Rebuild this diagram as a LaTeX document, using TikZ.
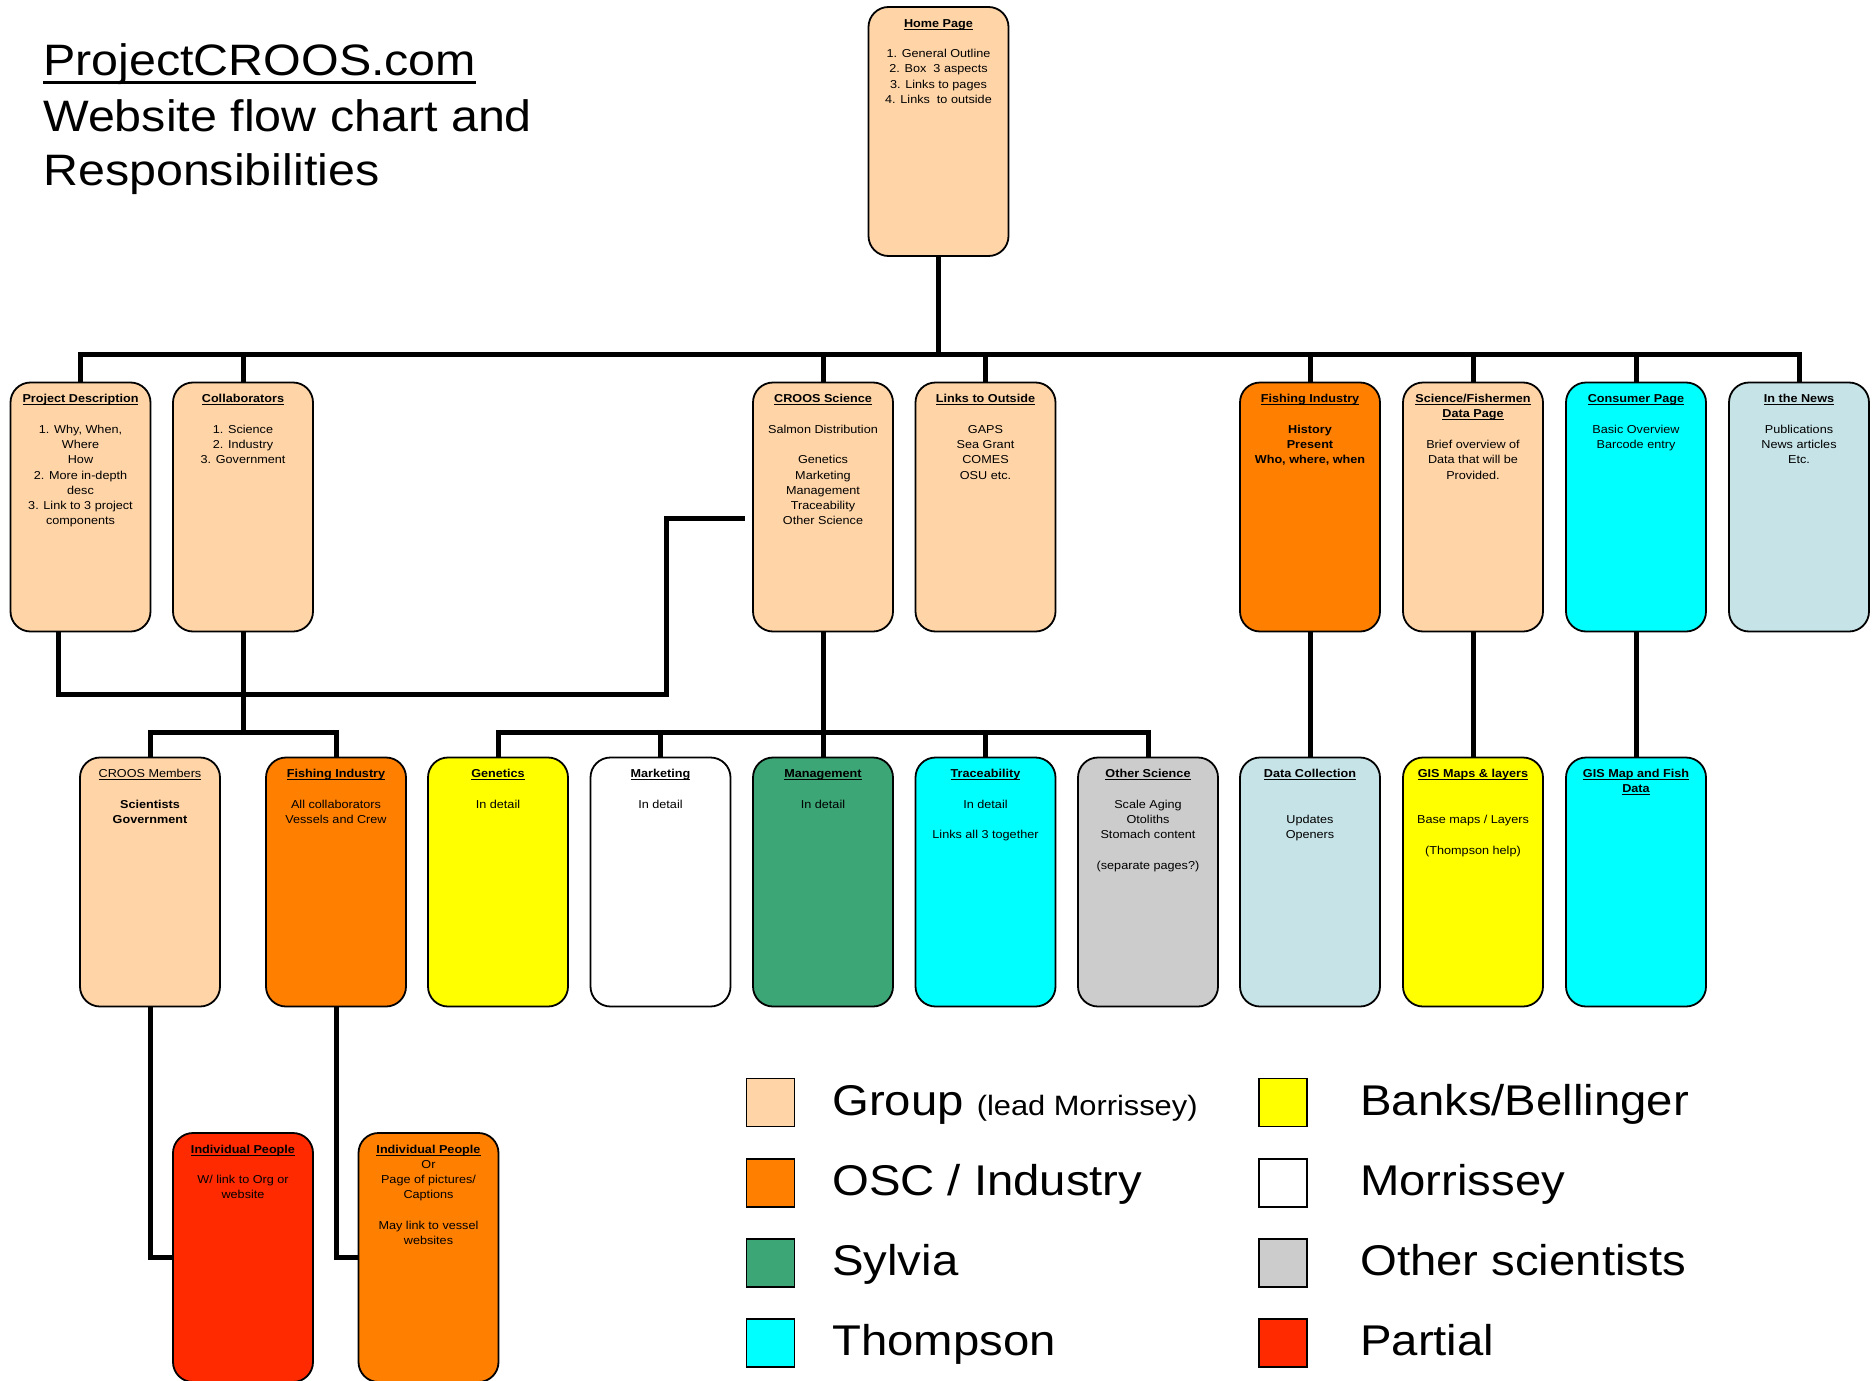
\documentclass[tikz,border=0pt]{standalone}
\usepackage{fontspec}
\setmainfont{Liberation Sans}[FakeStretch=1.1]
\definecolor{peach}{HTML}{FFD5A8}
\definecolor{orng}{HTML}{FF7F00}
\definecolor{yel}{HTML}{FFFF00}
\definecolor{grn}{HTML}{3CA676}
\definecolor{cyn}{HTML}{00FFFF}
\definecolor{gry}{HTML}{CCCCCC}
\definecolor{lblue}{HTML}{C6E3E7}
\definecolor{redp}{HTML}{FF2A00}
\newcommand\ul[1]{\leavevmode\setbox0=\hbox{#1}\rlap{\rule[-2.6pt]{\wd0}{1.1pt}}\box0}
\newcommand\ulbig[1]{\leavevmode\setbox0=\hbox{#1}\rlap{\rule[-8pt]{\wd0}{3.5pt}}\box0}
\newcommand\bx[1]{\parbox[c][249pt][t]{138pt}{\centering\fontsize{11.5}{15.3}\selectfont\rule{0pt}{20pt}#1\par}}
\begin{document}
\begin{tikzpicture}[x=1pt,y=-1pt,
  box/.style={draw=black,line width=1.8pt,rounded corners=20pt,inner sep=0pt,minimum width=140pt,minimum height=249pt},
  conn/.style={line width=5pt,black},
  legsq/.style={draw=black,line width=1.5pt,minimum width=48pt,minimum height=48pt,inner sep=0pt},
  legtxt/.style={anchor=base west,inner sep=0pt,font=\fontsize{43}{50}\selectfont},
  ttl/.style={anchor=base west,inner sep=0pt,font=\fontsize{44}{50}\selectfont}]
\useasboundingbox (0,0) rectangle (1875,1381);
\clip (0,0) rectangle (1875,1381);
\fill[white] (0,0) rectangle (1875,1381);

% title
\node[ttl] (t1) at (43,76) {\ulbig{ProjectCROOS.com}};
\node[ttl] (t2) at (43,131) {Website flow chart and};
\node[ttl] (t3) at (43,185) {Responsibilities};

% home
\node[box,fill=peach] (home) at (938.5,131.5) {\bx{\ul{\textbf{Home Page}}\\~\\1. General Outline\\2. Box\ \ 3 aspects\\3. Links to pages\\4. Links\ \ to outside}};

% top row
\node[box,fill=peach] (pd) at (80.5,507) {\bx{\ul{\textbf{Project Description}}\\~\\1. Why, When,\\Where\\How\\2. More in-depth\\desc\\3. Link to 3 project\\components}};
\node[box,fill=peach] (co) at (243,507) {\bx{\ul{\textbf{Collaborators}}\\~\\1. Science\\2. Industry\\3. Government}};
\node[box,fill=peach] (cs) at (823,507) {\bx{\ul{\textbf{CROOS Science}}\\~\\Salmon Distribution\\~\\Genetics\\Marketing\\Management\\Traceability\\Other Science}};
\node[box,fill=peach] (lo) at (985.5,507) {\bx{\ul{\textbf{Links to Outside}}\\~\\GAPS\\Sea Grant\\COMES\\OSU etc.}};
\node[box,fill=orng] (fi) at (1310,507) {\bx{\ul{\textbf{Fishing Industry}}\\~\\\textbf{History}\\\textbf{Present}\\\textbf{Who, where, when}}};
\node[box,fill=peach] (sf) at (1473,507) {\bx{\ul{\textbf{Science/Fishermen}}\\\ul{\textbf{Data Page}}\\~\\Brief overview of\\Data that will be\\Provided.}};
\node[box,fill=cyn] (cp) at (1636,507) {\bx{\ul{\textbf{Consumer Page}}\\~\\Basic Overview\\Barcode entry}};
\node[box,fill=lblue] (nw) at (1799,507) {\bx{\ul{\textbf{In the News}}\\~\\Publications\\News articles\\Etc.}};

% bottom row
\node[box,fill=peach] (cm) at (150,882) {\bx{\ul{CROOS Members}\\~\\\textbf{Scientists}\\\textbf{Government}}};
\node[box,fill=orng] (fb) at (336,882) {\bx{\ul{\textbf{Fishing Industry}}\\~\\All collaborators\\Vessels and Crew}};
\node[box,fill=yel] (ge) at (498,882) {\bx{\ul{\textbf{Genetics}}\\~\\In detail}};
\node[box,fill=white] (mk) at (660.5,882) {\bx{\ul{\textbf{Marketing}}\\~\\In detail}};
\node[box,fill=grn] (mg) at (823,882) {\bx{\ul{\textbf{Management}}\\~\\In detail}};
\node[box,fill=cyn] (tr) at (985.5,882) {\bx{\ul{\textbf{Traceability}}\\~\\In detail\\~\\Links all 3 together}};
\node[box,fill=gry] (os) at (1148,882) {\bx{\ul{\textbf{Other Science}}\\~\\Scale Aging\\Otoliths\\Stomach content\\~\\(separate pages?)}};
\node[box,fill=lblue] (dc) at (1310,882) {\bx{\ul{\textbf{Data Collection}}\\~\\~\\Updates\\Openers}};
\node[box,fill=yel] (gm) at (1473,882) {\bx{\ul{\textbf{GIS Maps \& layers}}\\~\\~\\Base maps / Layers\\~\\(Thompson help)}};
\node[box,fill=cyn] (gf) at (1636,882) {\bx{\ul{\textbf{GIS Map and Fish}}\\\ul{\textbf{Data}}}};

% lowest row
\node[box,fill=redp] (ip1) at (243,1257.5) {\bx{\ul{\textbf{Individual People}}\\~\\W/ link to Org or\\website}};
\node[box,fill=orng] (ip2) at (428.5,1257.5) {\bx{\ul{\textbf{Individual People}}\\Or\\Page of pictures/\\Captions\\~\\May link to vessel\\websites}};

% connectors
\draw[conn] (home.south) -- (home.south |- 0,356);
\draw[conn] (pd.north) -- ++(0,-27) -| (nw.north);
\foreach \n in {co,cs,lo,fi,sf,cp} \draw[conn] (\n.north) -- ++(0,-27);
\draw[conn] (pd.south -| 58,0) |- (666,694) |- ([xshift=-7pt]cs.west |- 0,518);
\draw[conn] (co.south) -- (co.south |- 0,733);
\draw[conn] (cm.north) -- ++(0,-24) -| (fb.north);
\draw[conn] (cs.south) -- (mg.north);
\draw[conn] (ge.north) -- ++(0,-24) -| (os.north);
\draw[conn] (mk.north) -- ++(0,-24);
\draw[conn] (tr.north) -- ++(0,-24);
\draw[conn] (fi.south) -- (dc.north);
\draw[conn] (sf.south) -- (gm.north);
\draw[conn] (cp.south) -- (gf.north);
\draw[conn] (cm.south) |- (ip1.west);
\draw[conn] (fb.south) |- (ip2.west);

% legend
\node[legsq,fill=peach] (s1) at (770.5,1102.5) {};
\node[legsq,fill=orng] (s2) at (770.5,1183) {};
\node[legsq,fill=grn] (s3) at (770.5,1263) {};
\node[legsq,fill=cyn] (s4) at (770.5,1343) {};
\node[legsq,fill=yel] (s5) at (1283,1102.5) {};
\node[legsq,fill=white] (s6) at (1283,1183) {};
\node[legsq,fill=gry] (s7) at (1283,1263) {};
\node[legsq,fill=redp] (s8) at (1283,1343) {};
\node[legtxt] (l1) at (832,1115) {Group {\fontsize{28}{30}\selectfont (lead Morrissey)}};
\node[legtxt] (l2) at (832,1195) {OSC / Industry};
\node[legtxt] (l3) at (832,1275) {Sylvia};
\node[legtxt] (l4) at (832,1355) {Thompson};
\node[legtxt] (l5) at (1360,1115) {Banks/Bellinger};
\node[legtxt] (l6) at (1360,1195) {Morrissey};
\node[legtxt] (l7) at (1360,1275) {Other scientists};
\node[legtxt] (l8) at (1360,1355) {Partial};
\end{tikzpicture}
\end{document}
